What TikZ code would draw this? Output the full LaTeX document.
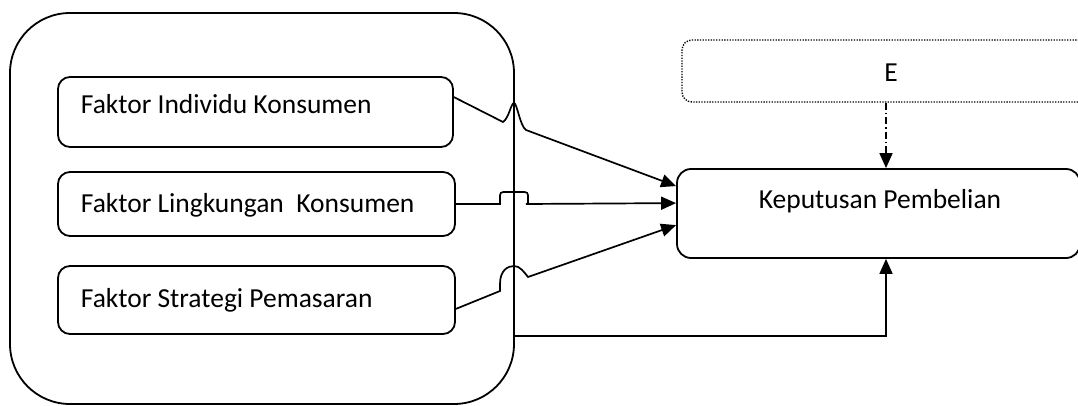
\documentclass[tikz,border=0pt]{standalone}
\usepackage{fontspec}
\setmainfont{Carlito}
\usetikzlibrary{arrows.meta,calc}
\begin{document}
\begin{tikzpicture}[x=1pt,y=-1pt,
  line width=1.8pt,
  boxshape/.style={draw, rectangle, inner sep=0pt, rounded corners=#1},
  lbl/.style={font=\fontsize{27.5}{33}\selectfont, inner sep=0pt},
  conn/.style={line width=1.7pt, -{Triangle[length=15pt,width=13pt]}},
]
\useasboundingbox (0,0) rectangle (1078,406);
% outer group box
\node[boxshape=60pt, minimum width=504pt, minimum height=391pt] (big) at (262,208.5) {};
% factor boxes
\node[boxshape=12pt, minimum width=395pt, minimum height=70pt] (b1) at (255.5,112) {};
\node[boxshape=12pt, minimum width=397pt, minimum height=64pt] (b2) at (256.5,204) {};
\node[boxshape=12pt, minimum width=397pt, minimum height=68pt] (b3) at (256.5,300) {};
\node[lbl, anchor=west] (t1) at (80,104) {Faktor Individu Konsumen};
\node[lbl, anchor=west] (t2) at (80,205) {Faktor Lingkungan~ Konsumen};
\node[lbl, anchor=west] (t3) at (80,300) {Faktor Strategi Pemasaran};
% decision box
\node[boxshape=14pt, minimum width=403pt, minimum height=89pt] (kp) at (878.5,213.5) {};
\node[lbl] (kpt) at (880,201) {Keputusan Pembelian};
% E box
\node[draw, rectangle, rounded corners=10pt, line width=1.4pt, dash pattern=on 1.3pt off 1.4pt, minimum width=418pt, minimum height=62pt, inner sep=0pt] (eb) at (891,71) {};
\node[lbl] (et) at (891,73) {E};
% connectors
\coordinate (s1) at ($(b1.north east)+(0,21)$);
\coordinate (e1) at ($(kp.north west)+(0,18)$);
\coordinate (s2) at (b2.east);
\coordinate (e2) at ($(kp.north west)+(0,35)$);
\coordinate (s3) at ($(b3.south east)+(0,-26)$);
\coordinate (e3) at ($(kp.north west)+(0,57)$);
\draw[conn] (s1) -- (503,122) .. controls (509,118) and (511,103) .. (514,103) .. controls (517,103) and (520,126) .. (526,130) -- (e1);
\draw[conn] (s2) -- (500,204) -- (500,199) .. controls (500,192) .. (507,192) -- (521,192) .. controls (528,192) .. (528,199) -- (528,203) .. controls (528,204) .. (526,204) -- (e2);
\draw[conn] (s3) -- (500,291) -- (500,284) .. controls (500,270) and (508,266) .. (514,266) .. controls (520,266) and (524,272) .. (528,277) -- (e3);
\coordinate (bs) at ($(big.east)+(0,127.5)$);
\coordinate (be) at ($(kp.south)+(7.5,0)$);
\draw[conn] (bs) -| (be);
\coordinate (es) at ($(eb.south)+(-5,0)$);
\coordinate (ee) at ($(kp.north)+(7.5,0)$);
\draw[line width=1.6pt, dash pattern=on 7pt off 3pt on 1.5pt off 3pt, -{Triangle[length=15pt,width=13pt]}] (es) -- (ee);
\end{tikzpicture}
\end{document}
